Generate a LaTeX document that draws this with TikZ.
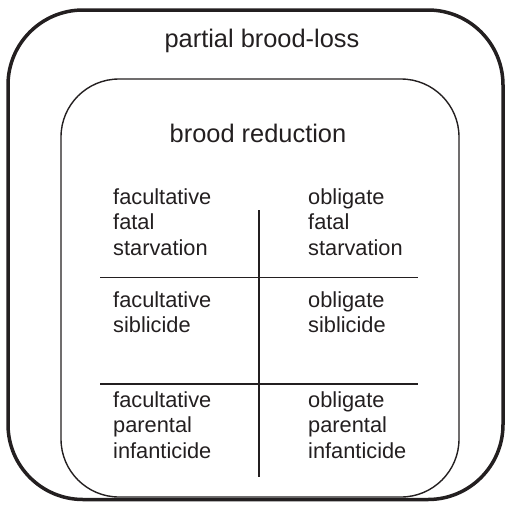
\documentclass[tikz,border=0pt]{standalone}
\usepackage{fontspec}
\setmainfont{Liberation Sans}
\definecolor{ink}{RGB}{35,31,32}
\begin{document}
\begin{tikzpicture}[x=1pt,y=-1pt,
  outerbox/.style={draw=ink,line width=3.5pt,rounded corners=75pt},
  innerbox/.style={draw=ink,line width=1.4pt,rounded corners=58pt},
  divider/.style={draw=ink,line width=1.8pt},
  title/.style={inner sep=0pt,anchor=base,text=ink,font=\fontsize{25.4}{30}\selectfont},
  cell/.style={inner sep=0pt,anchor=base west,text=ink,font=\fontsize{21.8}{25.5}\selectfont}]
\useasboundingbox (0,0) rectangle (506,504);
\draw[outerbox] (8,10) rectangle (503,499.5);
\draw[innerbox] (61,79) rectangle (459,497);
\node[title] (loss) at (262,47) {partial brood-loss};
\node[title] (red) at (258,142) {brood reduction};
\coordinate (vt) at (259,210);
\coordinate (vb) at (259,477);
\coordinate (h1l) at (100,277.5);
\coordinate (h1r) at (418,277.5);
\coordinate (h2l) at (100,384);
\coordinate (h2r) at (418,384);
\draw[divider] (vt) -- (vb);
\draw[divider] (h1l) -- (h1r);
\draw[divider] (h2l) -- (h2r);
\node[cell] (ffs) at (113,204) {\begin{tabular}[t]{@{}l@{}}facultative\\fatal\\starvation\end{tabular}};
\node[cell] (ofs) at (308,204) {\begin{tabular}[t]{@{}l@{}}obligate\\fatal\\starvation\end{tabular}};
\node[cell] (fs) at (113,307) {\begin{tabular}[t]{@{}l@{}}facultative\\siblicide\end{tabular}};
\node[cell] (os) at (308,307) {\begin{tabular}[t]{@{}l@{}}obligate\\siblicide\end{tabular}};
\node[cell] (fpi) at (113,407) {\begin{tabular}[t]{@{}l@{}}facultative\\parental\\infanticide\end{tabular}};
\node[cell] (opi) at (308,407) {\begin{tabular}[t]{@{}l@{}}obligate\\parental\\infanticide\end{tabular}};
\end{tikzpicture}
\end{document}
